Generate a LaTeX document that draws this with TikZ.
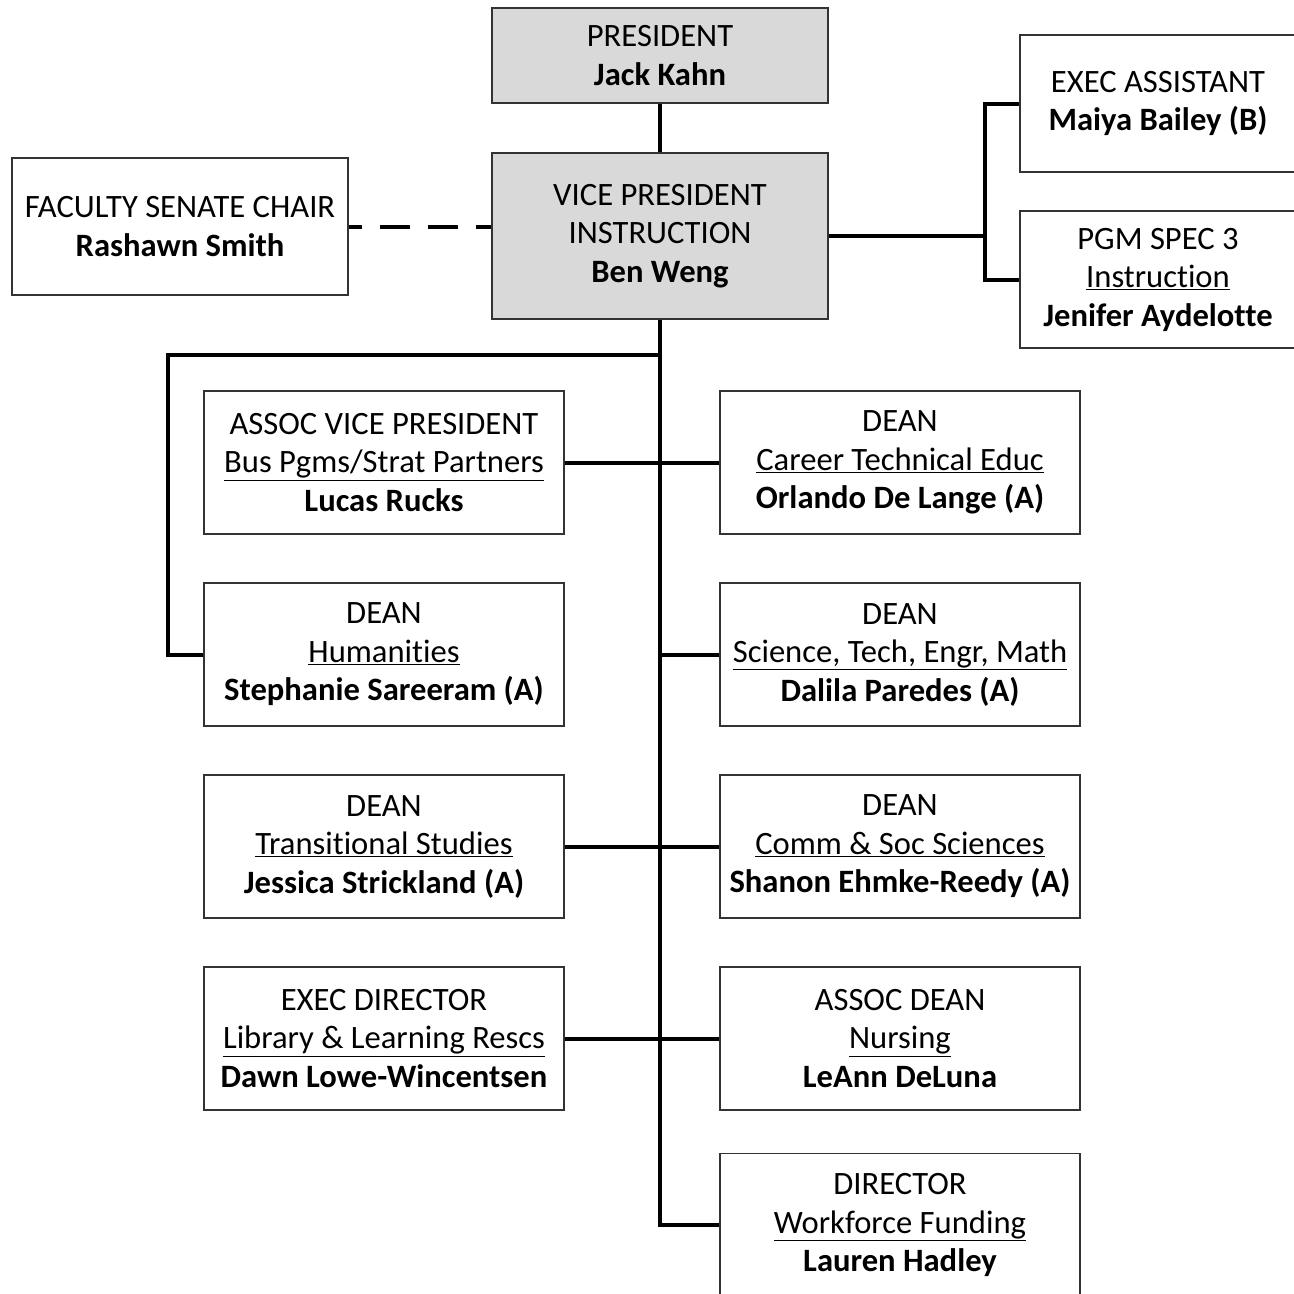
\documentclass[tikz,border=0pt]{standalone}
\usepackage{fontspec}
\setmainfont[Ligatures={NoCommon}]{Carlito}
\definecolor{boxgray}{HTML}{D9D9D9}
\begin{document}
\begin{tikzpicture}[x=1pt,y=-1pt,
  box/.style={draw=black!80,line width=1.2pt,rectangle,inner sep=0pt,align=center,
    font=\fontsize{32.6}{38.5}\selectfont},
  lbox/.style={box,minimum width=360pt,minimum height=143pt},
  gbox/.style={box,fill=boxgray,minimum width=336pt},
  conn/.style={line width=4pt}]
\useasboundingbox (0,0) rectangle (1294,1294);
% top
\node[gbox,minimum height=95pt] (pres) at (660,55.5) {PRESIDENT\\\textbf{Jack Kahn}};
\node[gbox,minimum height=166pt] (vp) at (660,236) {VICE PRESIDENT\\INSTRUCTION\\\textbf{Ben Weng}};
\node[box,minimum width=336pt,minimum height=137pt] (fs) at (180,226.5) {FACULTY SENATE CHAIR\\\textbf{Rashawn Smith}};
\node[box,minimum width=276pt,minimum height=137pt] (ea) at (1158,103.5) {EXEC ASSISTANT\\\textbf{Maiya Bailey (B)}};
\node[box,minimum width=276pt,minimum height=137pt] (pgm) at (1158,279.5) {PGM SPEC 3\\\underline{Instruction}\\\textbf{Jenifer Aydelotte}};
% left column
\node[lbox] (avp) at (384,462.5) {ASSOC VICE PRESIDENT\\\underline{Bus Pgms/Strat Partners}\\\textbf{Lucas Rucks}};
\node[lbox] (hum) at (384,654.5) {DEAN\\\underline{Humanities}\\\textbf{Stephanie Sareeram (A)}};
\node[lbox] (ts) at (384,846.5) {DEAN\\\underline{Transitional Studies}\\\textbf{Jessica Strickland (A)}};
\node[lbox] (lib) at (384,1038.5) {EXEC DIRECTOR\\\underline{Library \& Learning Rescs}\\\textbf{Dawn Lowe-Wincentsen}};
% right column
\node[lbox] (cte) at (900,462.5) {DEAN\\\underline{Career Technical Educ}\\\textbf{Orlando De Lange (A)}};
\node[lbox] (stem) at (900,654.5) {DEAN\\\underline{Science, Tech, Engr, Math}\\\textbf{Dalila Paredes (A)}};
\node[lbox] (css) at (900,846.5) {DEAN\\\underline{Comm \& Soc Sciences}\\\textbf{Shanon Ehmke-Reedy (A)}};
\node[lbox] (nur) at (900,1038.5) {ASSOC DEAN\\\underline{Nursing}\\\textbf{LeAnn DeLuna}};
\node[lbox] (dir) at (900,1225) {DIRECTOR\\\underline{Workforce Funding}\\\textbf{Lauren Hadley}};
% connector points
\coordinate (rj) at (985,236);
\coordinate (tj) at (660,355);
\coordinate (lj) at (168,355);
% connectors
\draw[conn] (pres.south) -- (vp.north);
\draw[conn,dash pattern=on 30pt off 18pt,dash phase=17pt] (fs.east) -- (fs.east -| vp.west);
\draw[conn] (vp.east) -- (rj);
\draw[conn] (ea.west) -| (rj) |- (pgm.west);
\draw[conn] (vp.south) |- (dir.west);
\draw[conn] (tj) -- (lj) |- (hum.west);
\draw[conn] (avp.east) -- (cte.west);
\draw[conn] (stem.west) -- (stem.west -| vp.south);
\draw[conn] (ts.east) -- (css.west);
\draw[conn] (lib.east) -- (nur.west);
\end{tikzpicture}
\end{document}
